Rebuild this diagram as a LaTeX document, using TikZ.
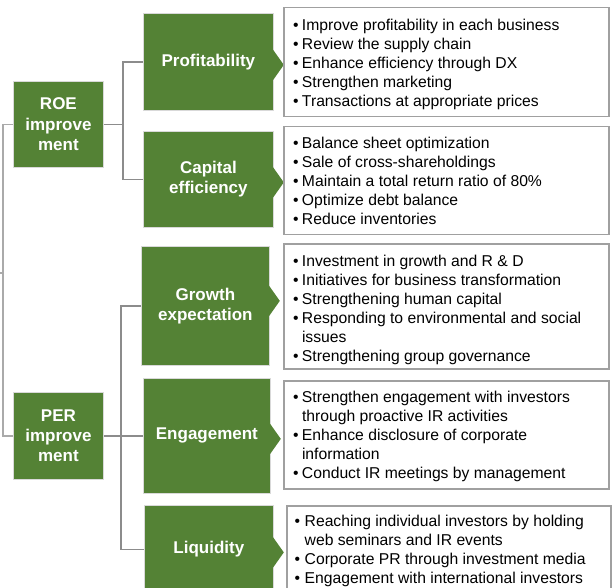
\documentclass[tikz,border=0pt]{standalone}
\usepackage{fontspec}
\setmainfont{Liberation Sans}
\usepackage{xcolor}
\usetikzlibrary{calc}

\definecolor{leaf}{RGB}{84,130,53}
\definecolor{wire}{RGB}{140,140,140}
\definecolor{trunkgray}{RGB}{170,170,170}
\definecolor{frame}{RGB}{160,160,160}

\newlength{\bulw}
\newcommand{\bul}{\makebox[\bulw][l]{\textbullet}}
\newcommand{\cont}{\hspace*{\bulw}}

\begin{document}
\begin{tikzpicture}[x=1pt,y=-1pt,
    lever/.style={fill=leaf,draw=gray!30,line width=0.8pt,text=white,
        font=\fontsize{17}{20.3}\selectfont\bfseries,align=center,
        anchor=north west,inner sep=0pt},
    itembox/.style={draw=frame,line width=1.5pt,anchor=north west,inner sep=0pt},
    itemlist/.style={anchor=north west,inner sep=0pt,align=left,
        font=\fontsize{15.7}{19}\selectfont,
        execute at begin node={\setlength{\bulw}{#1}\rule{0pt}{14pt}}},
    itemlist/.default=8.8pt,
    wire/.style={draw=wire,line width=1.5pt},
    trunk/.style={draw=trunkgray,line width=1.5pt}]
\useasboundingbox (0,0) rectangle (613,588);
\clip (0,0) rectangle (613,588);

% the two levers
\node[lever,minimum width=90,minimum height=86] (roe) at (13,81) {ROE\\improve\\ment};
\node[lever,minimum width=90,minimum height=87] (per) at (13,392) {PER\\improve\\ment};

% drivers
\node[lever,minimum width=130,minimum height=97]  (prof) at (143,13)  {Profitability};
\node[lever,minimum width=130,minimum height=96]  (cap)  at (143,131) {Capital\\efficiency};
\node[lever,minimum width=128,minimum height=119] (grow) at (141,246) {Growth\\expectation};
\node[lever,minimum width=127,minimum height=115] (eng)  at (143,378) {Engagement};
\node[lever,minimum width=129,minimum height=88]  (liq)  at (144,505) {Liquidity};

% chevrons pointing at the measures
\foreach \b/\dy in {prof/3,cap/3,grow/-5,eng/3,liq/3}
    \fill[leaf] ($(\b.east)+(-0.6,{\dy-15})$) -- ($(\b.east)+(10,\dy)$) -- ($(\b.east)+(-0.6,{\dy+15})$) -- cycle;

% measure boxes
\node[itembox,minimum width=325,minimum height=109] (mprof) at (283,7) {};
\node[itembox,minimum width=325,minimum height=108] (mcap)  at (283,126) {};
\node[itembox,minimum width=325,minimum height=125] (mgrow) at (283,243) {};
\node[itembox,minimum width=325,minimum height=108] (meng)  at (283,380) {};
\node[itembox,minimum width=324,minimum height=100] (mliq)  at (286,505) {};

\node[itemlist] (tprof) at (293,19) {%
\bul Improve profitability in each business\\
\bul Review the supply chain\\
\bul Enhance efficiency through DX\\
\bul Strengthen marketing\\
\bul Transactions at appropriate prices};
\node[itemlist] (tcap) at (293,137) {%
\bul Balance sheet optimization\\
\bul Sale of cross-shareholdings\\
\bul Maintain a total return ratio of 80\%\\
\bul Optimize debt balance\\
\bul Reduce inventories};
\node[itemlist] (tgrow) at (293,255) {%
\bul Investment in growth and R \& D\\
\bul Initiatives for business transformation\\
\bul Strengthening human capital\\
\bul Responding to environmental and social\\
\cont issues\\
\bul Strengthening group governance};
\node[itemlist] (teng) at (293,391) {%
\bul Strengthen engagement with investors\\
\cont through proactive IR activities\\
\bul Enhance disclosure of corporate\\
\cont information\\
\bul Conduct IR meetings by management};
\node[itemlist=10pt] (tliq) at (294.5,515) {%
\bul Reaching individual investors by holding\\
\cont web seminars and IR events\\
\bul Corporate PR through investment media\\
\bul Engagement with international investors};

% connectors
\coordinate (root) at (0,273);
\draw[trunk] (root) -- ++(3,0);
\draw[trunk] (roe.west) -- ++(-10,0) |- (per.west);
\draw[wire] (roe.east) -- ++(19,0) coordinate (roebus) |- (prof.west);
\draw[wire] (roebus) |- (cap.west);
\draw[wire] (per.east) -- ++(17,0) coordinate (perbus) |- (grow.west);
\draw[wire] (perbus) |- (eng.west);
\draw[wire] (perbus) |- (liq.west);
\end{tikzpicture}
\end{document}
